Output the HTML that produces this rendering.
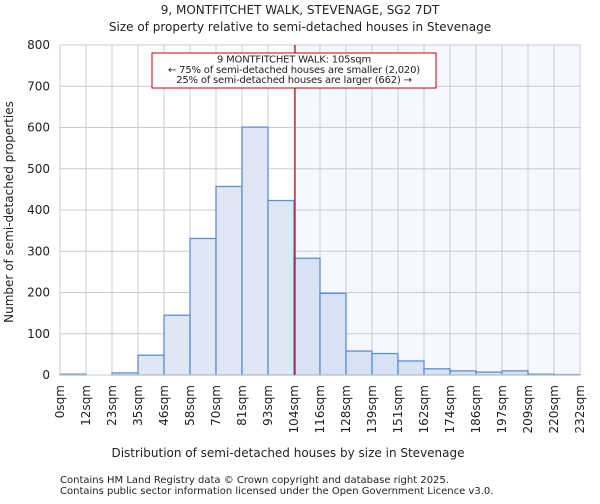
<!DOCTYPE html>
<html><head><meta charset="utf-8"><style>
body{margin:0;background:#fff;font-family:"DejaVu Sans","Liberation Sans",sans-serif;}
svg text{font-family:"DejaVu Sans","Liberation Sans",sans-serif;fill:#222;}
</style></head><body>
<svg id="chart" width="600" height="500">
<text x="300" y="14" font-size="12" text-anchor="middle">9, MONTFITCHET WALK, STEVENAGE, SG2 7DT</text>
<text x="300" y="31" font-size="12" text-anchor="middle">Size of property relative to semi-detached houses in Stevenage</text>
<g id="plot"></g>
<text x="288" y="457" font-size="12" text-anchor="middle">Distribution of semi-detached houses by size in Stevenage</text>
<text transform="translate(13,212) rotate(-90)" font-size="12" text-anchor="middle">Number of semi-detached properties</text>
<text x="60" y="483" font-size="10" fill="#333">Contains HM Land Registry data © Crown copyright and database right 2025.</text>
<text x="60" y="494" font-size="10" fill="#333">Contains public sector information licensed under the Open Government Licence v3.0.</text>
</svg>
<script>
const binLabels=["0sqm","12sqm","23sqm","35sqm","46sqm","58sqm","70sqm","81sqm","93sqm","104sqm","116sqm","128sqm","139sqm","151sqm","162sqm","174sqm","186sqm","197sqm","209sqm","220sqm","232sqm"];
const counts=[2,0,5,48,145,331,457,601,423,283,198,58,52,34,15,10,7,10,2,1];
const yTicks=[0,100,200,300,400,500,600,700,800];
const markerBin=9;
const NS="http://www.w3.org/2000/svg";
const X0=60,X1=580,Y0=375,Y1=45,YMAX=800;
const bw=(X1-X0)/counts.length;
const xs=i=>X0+i*bw;
const ys=v=>Y0-(v/YMAX)*(Y0-Y1);
const g=document.getElementById('plot');
function mk(t,a){const e=document.createElementNS(NS,t);for(const k in a)e.setAttribute(k,a[k]);g.appendChild(e);return e;}
const bg=mk('rect',{x:X0,y:Y1,width:X1-X0,height:Y0-Y1,fill:'#fff'});


const sh=mk('rect',{x:xs(markerBin),y:Y1,width:X1-xs(markerBin),height:Y0-Y1,fill:'#f5f8fe'});


yTicks.forEach(t=>{
 const l=mk('line',{x1:X0,x2:X1,y1:ys(t),y2:ys(t),stroke:'#ccc','stroke-width':1});
 
 
 const tx=mk('text',{x:X0-10,y:ys(t)+4,'font-size':12,'text-anchor':'end'});tx.textContent=t;
 
 
});
binLabels.forEach((lb,i)=>{
 const l=mk('line',{x1:xs(i),x2:xs(i),y1:Y1,y2:Y0,stroke:'#ccc','stroke-width':1});
 
 
 const x=xs(i)+4,y=Y0+10;
 const tx=mk('text',{x:x,y:y,'font-size':12,'text-anchor':'end',transform:`rotate(-90 ${x} ${y})`});tx.textContent=lb;
 
 
});
counts.forEach((c,i)=>{
 const r=mk('rect',{x:xs(i),y:ys(c),width:bw,height:Y0-ys(c),fill:i<markerBin?'#dfe7f4':'#d7e2f3',stroke:'#5b8fd6','stroke-width':1.3});
 
 
});
const ax=mk('rect',{x:X0,y:Y1,width:X1-X0,height:Y0-Y1,fill:'none',stroke:'#ccc'});


const ml=mk('line',{x1:xs(markerBin)+1,x2:xs(markerBin)+1,y1:Y1,y2:Y0,stroke:'#cc0000','stroke-width':1.2});


const box=mk('rect',{x:152,y:53,width:284,height:35,fill:'#fff',stroke:'#cc0000','stroke-width':1});


["9 MONTFITCHET WALK: 105sqm","← 75% of semi-detached houses are smaller (2,020)","25% of semi-detached houses are larger (662) →"].forEach((s,i)=>{
 const t=mk('text',{x:294,y:62.5+i*10.3,'font-size':10,'text-anchor':'middle','letter-spacing':'-0.2'});t.textContent=s;
 
 
});
</script>
</body></html>
